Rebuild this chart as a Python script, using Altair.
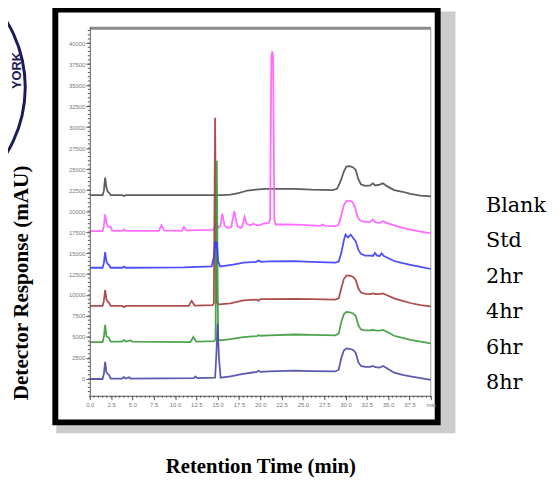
import altair as alt
import pandas as pd

series_names = ["Blank", "Std", "2hr", "4hr", "6hr", "8hr"]
series_colors = ["#4d4d4d", "#ff5cff", "#3a3aff", "#a33b3b", "#3a9a3a", "#4848a8"]

t_blank = [0, 1.5, 1.65, 1.8, 1.95, 2.1, 2.25, 2.45, 3.8, 4.0, 4.2, 14.8, 15.5, 16.5, 17.3, 18.0, 18.5,
           19.5, 20.5, 24.0, 26.0, 28.5, 29.0, 29.4, 29.8, 30.1, 30.5, 30.9, 31.2, 31.5, 31.8, 32.3, 32.9,
           33.2, 33.5, 34.0, 34.4, 34.8, 35.7, 36.7, 37.6, 38.8, 40.0]
v_blank = [21900, 21900, 22400, 24000, 22800, 22300, 22200, 21900, 21900, 21800, 21900, 21900, 21900,
           21950, 22100, 22300, 22450, 22550, 22650, 22650, 22550, 22500, 22650, 23500, 24700, 25300,
           25350, 25200, 24900, 23800, 23200, 23000, 23050, 23300, 23050, 23150, 23300, 23000, 22500,
           22300, 22050, 21850, 21750]

t_std = [0, 1.5, 1.65, 1.8, 1.95, 2.1, 2.3, 2.45, 2.6, 2.8, 3.8, 4.0, 4.3, 8.1, 8.4, 8.7, 10.8, 11.05,
         11.3, 14.5, 14.8, 15.1, 15.3, 15.55, 15.8, 16.1, 16.6, 16.95, 17.3, 17.7, 17.9, 18.15, 18.4,
         18.8, 19.2, 19.6, 20.0, 20.5, 21.0, 21.15, 21.3, 21.4, 21.5, 21.65, 21.8, 22.2, 23.0, 25.0,
         27.0, 27.3, 27.6, 28.8, 29.2, 29.5, 29.8, 30.1, 30.5, 30.8, 31.1, 31.4, 31.7, 32.2, 32.9, 33.2,
         33.5, 34.0, 34.4, 34.8, 35.7, 36.7, 37.6, 38.8, 40.0]
v_std = [17600, 17600, 18200, 19600, 18600, 18200, 18100, 18150, 17700, 17650, 17650, 17800, 17650,
         17650, 18300, 17700, 17650, 18100, 17700, 17750, 18600, 18000, 18200, 19700, 18300, 18000,
         18100, 20000, 18200, 18000, 18200, 19300, 18500, 18300, 18500, 18300, 18350, 18550, 18600,
         19000, 38500, 39000, 38500, 19000, 18400, 18400, 18400, 18350, 18250, 18400, 18250, 18200,
         18400, 19500, 20700, 21200, 21250, 21100, 20500, 19300, 18900, 18700, 18700, 19000, 18650,
         18600, 18800, 18600, 18300, 18000, 17800, 17550, 17350]

t_2hr = [0, 1.5, 1.65, 1.8, 1.95, 2.1, 2.25, 2.45, 3.8, 4.0, 4.2, 11.0, 14.3, 14.55, 14.7, 14.8, 14.9,
         15.05, 15.3, 16.0, 17.0, 18.0, 19.5, 19.8, 20.1, 21.0, 24.0, 26.0, 28.8, 29.2, 29.5, 29.8,
         30.0, 30.3, 30.6, 30.9, 31.2, 31.5, 31.8, 32.3, 32.9, 33.2, 33.45, 33.7, 34.0, 34.25, 34.5,
         34.8, 35.7, 36.7, 37.6, 38.8, 40.0]
v_2hr = [13250, 13250, 13800, 15100, 14000, 13700, 13600, 13250, 13250, 13400, 13250, 13300, 13400,
         14500, 16400, 16000, 16300, 14000, 13400, 13500, 13650, 13850, 13950, 14100, 13950, 14000,
         14050, 13950, 13850, 14000, 15000, 16500, 17200, 16850, 17200, 16800, 16400, 15400, 14900,
         14700, 14700, 14650, 15000, 14700, 14650, 14950, 14650, 14500, 14050, 13800, 13600, 13350,
         13100]

t_4hr = [0, 1.5, 1.65, 1.8, 1.95, 2.1, 2.25, 2.45, 3.8, 4.0, 4.2, 11.6, 11.95, 12.3, 14.4, 14.55, 14.7,
         14.85, 15.2, 16.5, 18.0, 19.6, 19.8, 20.0, 21.0, 24.0, 26.0, 28.8, 29.2, 29.5, 29.8, 30.1,
         30.5, 30.9, 31.2, 31.5, 31.8, 32.3, 32.9, 33.2, 33.5, 34.0, 34.4, 34.8, 35.7, 36.7, 37.6,
         38.8, 40.0]
v_4hr = [8700, 8700, 9300, 10600, 9500, 9200, 9100, 8700, 8700, 8550, 8700, 8700, 9300, 8750, 8800,
         9000, 31100, 9100, 8900, 9000, 9350, 9450, 9300, 9500, 9500, 9550, 9500, 9450, 9600, 10800,
         11900, 12300, 12300, 12150, 11800, 10800, 10300, 10150, 10100, 10200, 10100, 10100, 10200,
         10000, 9600, 9300, 9050, 8800, 8650]

t_6hr = [0, 1.5, 1.65, 1.8, 1.95, 2.1, 2.25, 2.45, 3.8, 4.0, 4.2, 4.8, 5.0, 11.8, 12.15, 12.5, 14.6,
         14.75, 14.9, 15.05, 15.3, 16.5, 18.0, 19.6, 19.8, 20.0, 21.0, 24.0, 26.0, 28.8, 29.2, 29.5,
         29.8, 30.1, 30.5, 30.9, 31.2, 31.5, 31.8, 32.3, 32.9, 33.2, 33.5, 34.0, 34.4, 34.8, 35.7,
         36.7, 37.6, 38.8, 40.0]
v_6hr = [4400, 4400, 5000, 6450, 5100, 5000, 4900, 4450, 4450, 4650, 4450, 4600, 4450, 4400, 5000,
         4450, 4500, 4700, 26000, 4700, 4600, 4750, 5000, 5100, 5250, 5150, 5200, 5300, 5250, 5200,
         5400, 6800, 7700, 8000, 7950, 7800, 7500, 6400, 5900, 5800, 5800, 5850, 5800, 5750, 5850,
         5650, 5150, 4900, 4650, 4450, 4250]

t_8hr = [0, 1.5, 1.65, 1.8, 1.95, 2.1, 2.25, 2.45, 3.8, 4.0, 4.2, 4.6, 4.8, 12.2, 12.4, 12.6, 14.7,
         14.85, 15.0, 15.15, 15.35, 16.5, 18.0, 19.6, 19.8, 20.0, 21.0, 24.0, 26.0, 28.8, 29.2, 29.5,
         29.8, 30.1, 30.5, 30.9, 31.2, 31.5, 31.8, 32.3, 32.9, 33.2, 33.5, 34.0, 34.4, 34.8, 35.7,
         36.7, 37.6, 38.8, 40.0]
v_8hr = [0, 0, 600, 2050, 800, 600, 500, 50, 50, 250, 50, 200, 50, 100, 300, 100, 150, 3000, 6600,
         2500, 150, 300, 600, 850, 1000, 850, 900, 1000, 950, 900, 1100, 2500, 3400, 3650, 3600, 3450,
         3100, 2000, 1550, 1450, 1450, 1550, 1400, 1350, 1550, 1300, 750, 500, 300, 100, -100]

y_ticks = [0, 2500, 5000, 7500, 10000, 12500, 15000, 17500, 20000, 22500, 25000, 27500, 30000,
           32500, 35000, 37500, 40000]
x_ticks = [0.0, 2.5, 5.0, 7.5, 10.0, 12.5, 15.0, 17.5, 20.0, 22.5, 25.0, 27.5, 30.0, 32.5, 35.0,
           37.5, 40.0]
y_minor = list(range(-1500, 41501, 500))
x_minor = [i / 2 for i in range(0, 81)]
stamp_text = ["YORK"]

series_data = {
    "Blank": (t_blank, v_blank), "Std": (t_std, v_std), "2hr": (t_2hr, v_2hr),
    "4hr": (t_4hr, v_4hr), "6hr": (t_6hr, v_6hr), "8hr": (t_8hr, v_8hr),
}
rows = []
for name, (ts, vs) in series_data.items():
    for t, v in zip(ts, vs):
        rows.append({"series": name, "t": t, "v": v})
df = pd.DataFrame(rows)

W, H = 346, 374
xscale = alt.Scale(domain=[0, 40], nice=False, zero=False)
yscale = alt.Scale(domain=[-2000, 41900], nice=False, zero=False)

yaxis = alt.Axis(values=y_ticks, format="d", title="Detector Response (mAU)",
                 titleFont="Liberation Serif", titleFontSize=21.5, titleFontWeight="bold",
                 titleColor="black", titleX=-69, titleY=259, titleAngle=270,
                 titleBaseline="middle", titleAlign="center",
                 labelFont="Liberation Sans", labelFontSize=6, labelColor="#777",
                 labelPadding=1, tickSize=4, tickColor="#555", domainColor="#555",
                 grid=False, zindex=1, labelOverlap=False)
xaxis = alt.Axis(values=x_ticks,
                 labelExpr="datum.value == 40 ? 'min' : format(datum.value, '.1f')",
                 title="Retention Time (min)", titleFont="Liberation Serif", titleFontSize=21,
                 titleFontWeight="bold", titleColor="black", titleY=72, titleBaseline="middle",
                 labelFont="Liberation Sans", labelFontSize=6, labelColor="#777",
                 labelPadding=2, tickSize=4, tickColor="#555", domainColor="#555",
                 grid=False, zindex=1, labelOverlap=False, labelFlush=False)

legend = alt.Legend(orient="none", legendX=381, legendY=171, title=None, symbolOpacity=0,
                    symbolSize=1, symbolStrokeWidth=0, labelFont="DejaVu Serif",
                    labelFontSize=21, labelColor="black", labelOffset=0, rowPadding=14,
                    padding=0, labelLimit=0)
color = alt.Color("series:N", scale=alt.Scale(domain=series_names, range=series_colors),
                  legend=legend)

one = pd.DataFrame({"k": [0]})
shadow = alt.Chart(one).mark_rect(fill="#cccccc").encode(
    x=alt.value(-34), x2=alt.value(371), y=alt.value(-16), y2=alt.value(412))
frame = alt.Chart(one).mark_rect(fill="black").encode(
    x=alt.value(-38), x2=alt.value(356), y=alt.value(-20), y2=alt.value(404))
inner = alt.Chart(one).mark_rect(fill="white").encode(
    x=alt.value(-32), x2=alt.value(350), y=alt.value(-15), y2=alt.value(398))
topline = alt.Chart(one).mark_rule(color="#8a8a8a", strokeWidth=3).encode(
    x=alt.value(0), x2=alt.value(W), y=alt.value(1))
rightline = alt.Chart(one).mark_rule(color="#999", strokeWidth=1).encode(
    x=alt.value(W), y=alt.value(0), y2=alt.value(H))

stamp_arc = alt.Chart(one).mark_arc(radius=130, radius2=127, theta=0.7, theta2=2.45,
                                    fill="#1c1c5c").encode(x=alt.value(-194), y=alt.value(61))
stamp_label = alt.Chart(pd.DataFrame({"s": stamp_text})).mark_text(
    font="Liberation Sans", fontSize=13, fontWeight="bold", color="#1c1c5c", angle=270,
    align="center", baseline="middle").encode(text="s:N", x=alt.value(-74), y=alt.value(44))

ymin = alt.Chart(pd.DataFrame({"v": y_minor})).mark_rule(color="#555", strokeWidth=1).encode(
    y=alt.Y("v:Q", scale=yscale, axis=yaxis), x=alt.value(-2), x2=alt.value(0))
xmin = alt.Chart(pd.DataFrame({"t": x_minor})).mark_rule(color="#555", strokeWidth=1).encode(
    x=alt.X("t:Q", scale=xscale, axis=xaxis), y=alt.value(H), y2=alt.value(H + 2))

lines = []
for name in ["Blank", "Std", "4hr", "6hr", "2hr", "8hr"]:
    lines.append(
        alt.Chart(df).transform_filter(alt.datum.series == name)
        .mark_line(strokeWidth=1.8, opacity=0.9)
        .encode(x=alt.X("t:Q", scale=xscale, axis=xaxis),
                y=alt.Y("v:Q", scale=yscale, axis=yaxis),
                color=color)
    )

chart = alt.layer(shadow, frame, inner, topline, rightline, stamp_arc, stamp_label,
                  *lines, ymin, xmin).properties(
    width=W, height=H, autosize="none",
    padding={"left": 83, "top": 16, "right": 123, "bottom": 84},
).configure_view(stroke=None)

chart.save("out.html", embed_options={"renderer": "svg", "actions": False})
